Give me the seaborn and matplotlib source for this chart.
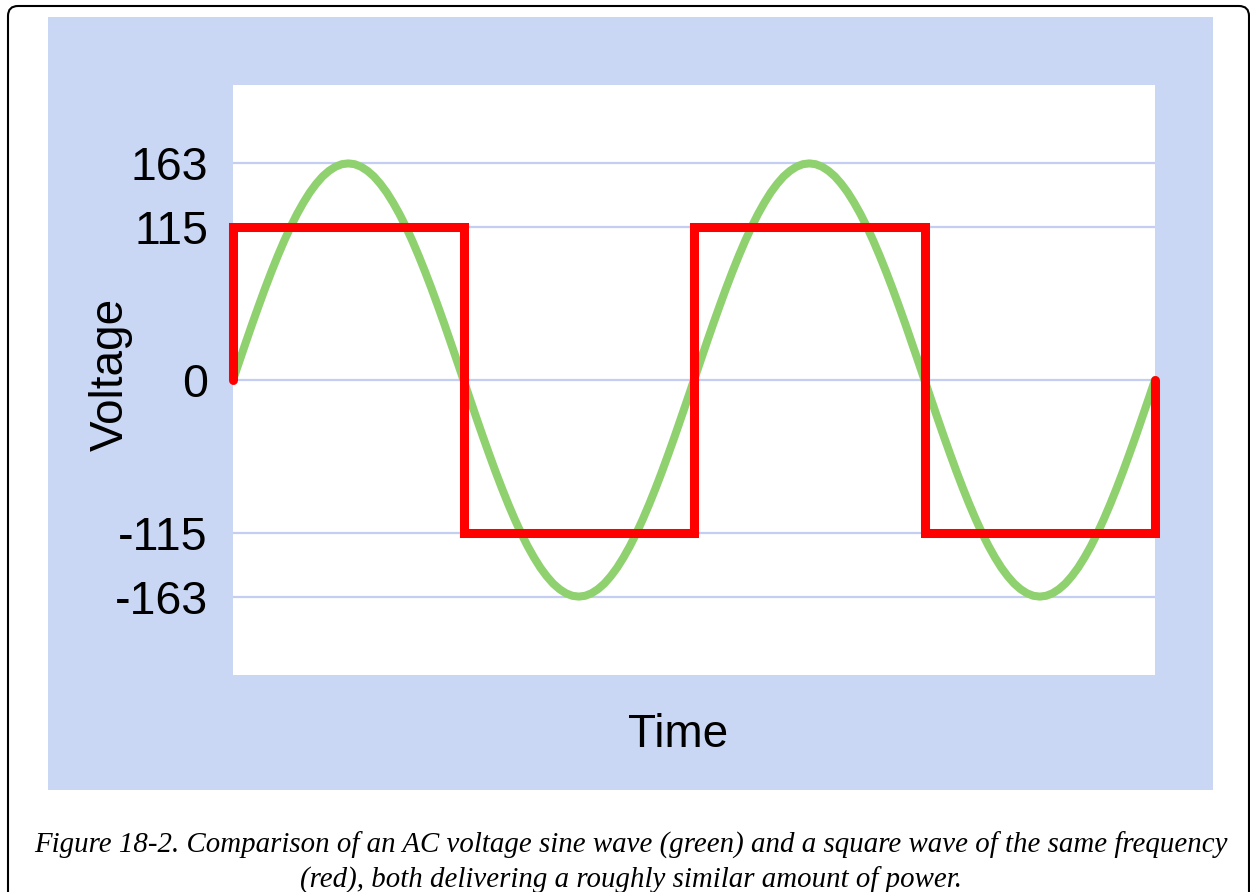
import numpy as np
import pandas as pd
import matplotlib
matplotlib.use('Agg')
import matplotlib.pyplot as plt
from matplotlib.patches import FancyBboxPatch, Rectangle
import seaborn as sns

# Sine wave, one cycle sampled every 5 degrees (peak 163 V)
sine_cycle = [0, 14.2, 28.3, 42.2, 55.7, 68.9, 81.5, 93.5, 104.8, 115.3,
              124.9, 133.5, 141.2, 147.7, 153.2, 157.4, 160.5, 162.4, 163,
              162.4, 160.5, 157.4, 153.2, 147.7, 141.2, 133.5, 124.9, 115.3,
              104.8, 93.5, 81.5, 68.9, 55.7, 42.2, 28.3, 14.2, 0,
              -14.2, -28.3, -42.2, -55.7, -68.9, -81.5, -93.5, -104.8, -115.3,
              -124.9, -133.5, -141.2, -147.7, -153.2, -157.4, -160.5, -162.4, -163,
              -162.4, -160.5, -157.4, -153.2, -147.7, -141.2, -133.5, -124.9, -115.3,
              -104.8, -93.5, -81.5, -68.9, -55.7, -42.2, -28.3, -14.2, 0]
sine_volts = sine_cycle + sine_cycle[1:]
sine_time = np.arange(0, 721, 5)

# Square wave of the same frequency (115 V)
square_time = [0, 0, 180, 180, 360, 360, 540, 540, 720, 720]
square_volts = [0, 115, 115, -115, -115, 115, 115, -115, -115, 0]

ytick_values = [163, 115, 0, -115, -163]
ytick_labels = ['163', '115', '0', '-115', '-163']

caption_1 = ('Figure 18-2. Comparison of an AC voltage sine wave (green) and a '
             'square wave of the same frequency')
caption_2 = '(red), both delivering a roughly similar amount of power.'

sine_df = pd.DataFrame({'time': sine_time, 'voltage': sine_volts})
square_df = pd.DataFrame({'time': square_time, 'voltage': square_volts})

sns.set_style('white')
plt.rcParams['font.family'] = ['Liberation Sans', 'DejaVu Sans']
plt.rcParams['text.color'] = 'black'
plt.rcParams['ytick.color'] = 'black'
plt.rcParams['axes.labelcolor'] = 'black'

fig = plt.figure(figsize=(12.5, 8.92), dpi=100)

# outer rounded border and blue panel (inch coordinates)
border = FancyBboxPatch((0.08, -0.3), 12.41, 9.16,
                        boxstyle='round,pad=0,rounding_size=0.1',
                        transform=fig.dpi_scale_trans, fill=False,
                        edgecolor='black', linewidth=1.5, zorder=-2)
fig.patches.append(border)
panel = Rectangle((0.48, 1.02), 11.65, 7.73, transform=fig.dpi_scale_trans,
                  facecolor='#c9d7f4', edgecolor='none', zorder=-1)
fig.patches.append(panel)

ax = fig.add_axes([233 / 1250, 217 / 892, 922 / 1250, 590 / 892])
ax.set_zorder(1)
ax.set_facecolor('white')

sns.lineplot(data=sine_df, x='time', y='voltage', ax=ax, sort=False,
             estimator=None, color='#8fd16f', linewidth=5.8,
             solid_capstyle='round', solid_joinstyle='round',
             clip_on=False, zorder=3)
sns.lineplot(data=square_df, x='time', y='voltage', ax=ax, sort=False,
             estimator=None, color='#ff0000', linewidth=6.5,
             solid_capstyle='round', solid_joinstyle='miter',
             clip_on=False, zorder=4)

ax.set_xlim(0, 720)
ax.set_ylim(-222, 222)
ax.set_xticks([])
ax.set_yticks(ytick_values)
ax.set_yticklabels(ytick_labels, fontsize=33.5)
ax.tick_params(axis='y', length=0, pad=18)
ax.grid(axis='y', color='#c3cef2', linewidth=1.6)
ax.set_axisbelow(True)
for side in ax.spines.values():
    side.set_visible(False)

ax.set_ylabel('Voltage', fontsize=33)
ax.yaxis.set_label_coords(-0.1325, 0.51)
ax.yaxis.label.set_verticalalignment('center')
ax.set_xlabel('')
ax.text(0.4826, -0.122, 'Time', transform=ax.transAxes, fontsize=33,
        ha='center', va='baseline')

fig.text(631 / 1250, 39 / 892, caption_1, ha='center', va='baseline',
         fontsize=20.8, fontstyle='italic', family=['Liberation Serif'])
fig.text(631 / 1250, 4 / 892, caption_2, ha='center', va='baseline',
         fontsize=20.8, fontstyle='italic', family=['Liberation Serif'])

plt.savefig('out.png', dpi=100)
plt.close()
